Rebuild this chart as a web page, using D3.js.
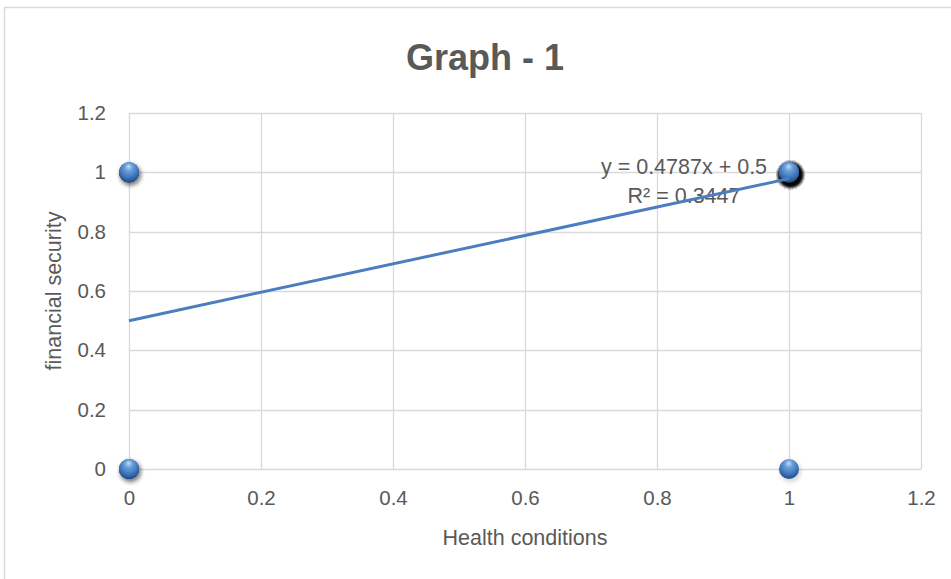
<!DOCTYPE html>
<html>
<head>
<meta charset="utf-8">
<script src="https://cdn.jsdelivr.net/npm/d3@7"></script>
<style>
  html, body { margin: 0; padding: 0; background: #ffffff; }
  svg { display: block; font-family: "Liberation Sans", Arial, sans-serif; }
</style>
</head>
<body>
<svg id="chart" width="951" height="579"></svg>
<script>
// Observations: health conditions (x) vs financial security (y), 55 respondents
const healthValues = [
  0, 0, 0, 0,
  0, 0, 0, 0,
  1, 1, 1, 1, 1, 1, 1, 1, 1, 1, 1, 1, 1, 1, 1, 1, 1, 1, 1, 1, 1, 1, 1,
  1, 1, 1, 1, 1, 1, 1, 1, 1, 1, 1, 1, 1, 1, 1, 1, 1, 1, 1, 1, 1, 1, 1,
  1
];
const securityValues = [
  0, 0, 0, 0,
  1, 1, 1, 1,
  1, 1, 1, 1, 1, 1, 1, 1, 1, 1, 1, 1, 1, 1, 1, 1, 1, 1, 1, 1, 1, 1, 1,
  1, 1, 1, 1, 1, 1, 1, 1, 1, 1, 1, 1, 1, 1, 1, 1, 1, 1, 1, 1, 1, 1, 1,
  0
];

// Linear trendline as reported
const trendSlope = 0.4787;
const trendIntercept = 0.5;
const trendR2 = 0.3447;

const xTicks = [0, 0.2, 0.4, 0.6, 0.8, 1, 1.2];
const yTicks = [0, 0.2, 0.4, 0.6, 0.8, 1, 1.2];

const chartTitle = "Graph - 1";
const xTitle = "Health conditions";
const yTitle = "financial security";

const svg = d3.select("#chart");
const plot = { left: 129, right: 921, top: 113, bottom: 469 };

const x = d3.scaleLinear().domain([0, 1.2]).range([plot.left, plot.right]);
const y = d3.scaleLinear().domain([0, 1.2]).range([plot.bottom, plot.top]);

const textColor = "#595959";
const gridColor = "#d9d9d9";

// Chart frame
svg.append("rect")
  .attr("x", 4.5).attr("y", 7.5)
  .attr("width", 1000).attr("height", 1000)
  .attr("fill", "#ffffff")
  .attr("stroke", gridColor).attr("stroke-width", 1.5);

// Title
svg.append("text")
  .attr("x", 485).attr("y", 70)
  .attr("text-anchor", "middle")
  .attr("font-size", 36).attr("font-weight", "bold")
  .attr("fill", textColor)
  .text(chartTitle);

// Gridlines
const grid = svg.append("g");
grid.selectAll("line.h").data(yTicks).join("line")
  .attr("class", "h")
  .attr("x1", plot.left).attr("x2", plot.right)
  .attr("y1", d => Math.round(y(d)) + 0.5).attr("y2", d => Math.round(y(d)) + 0.5)
  .attr("stroke", gridColor).attr("stroke-width", 1.3);
grid.selectAll("line.v").data(xTicks).join("line")
  .attr("class", "v")
  .attr("y1", plot.top).attr("y2", plot.bottom)
  .attr("x1", d => Math.round(x(d)) + 0.5).attr("x2", d => Math.round(x(d)) + 0.5)
  .attr("stroke", gridColor).attr("stroke-width", 1.3);

// Axes (labels only)
const fmt = d => d3.format("~g")(d);
const xAxis = svg.append("g")
  .attr("transform", `translate(0,${plot.bottom})`)
  .call(d3.axisBottom(x).tickValues(xTicks).tickFormat(fmt).tickSize(0).tickPadding(21));
const yAxis = svg.append("g")
  .attr("transform", `translate(${plot.left},0)`)
  .call(d3.axisLeft(y).tickValues(yTicks).tickFormat(fmt).tickSize(0).tickPadding(23));
[xAxis, yAxis].forEach(a => {
  a.select(".domain").remove();
  a.selectAll("text")
    .attr("font-size", 20.5)
    .attr("font-family", "Liberation Sans, Arial, sans-serif")
    .attr("fill", textColor);
});

// Axis titles
svg.append("text")
  .attr("x", 525).attr("y", 545)
  .attr("text-anchor", "middle")
  .attr("font-size", 21.5).attr("fill", textColor)
  .text(xTitle);
svg.append("text")
  .attr("transform", `translate(61,${(plot.top + plot.bottom) / 2}) rotate(-90)`)
  .attr("text-anchor", "middle")
  .attr("font-size", 21.5).attr("fill", textColor)
  .text(yTitle);

// Marker styling: soft drop shadow and shaded sphere
const defs = svg.append("defs");
defs.append("filter").attr("id", "shadowBlur")
  .attr("x", "-100%").attr("y", "-100%").attr("width", "300%").attr("height", "300%")
  .append("feGaussianBlur").attr("stdDeviation", 2.2);
const grad = defs.append("radialGradient").attr("id", "sphere")
  .attr("cx", "50%").attr("cy", "35%").attr("r", "65%")
  .attr("fx", "48%").attr("fy", "20%");
grad.append("stop").attr("offset", "0%").attr("stop-color", "#c4ddf8");
grad.append("stop").attr("offset", "30%").attr("stop-color", "#6a9fdc");
grad.append("stop").attr("offset", "72%").attr("stop-color", "#3d72b8");
grad.append("stop").attr("offset", "100%").attr("stop-color", "#1f4a88");

const points = healthValues.map((h, i) => ({ x: h, y: securityValues[i] }));
const marks = svg.append("g");
points.forEach(p => {
  marks.append("circle")
    .attr("cx", x(p.x) + 1.5).attr("cy", y(p.y) + 2.5)
    .attr("r", 10.5)
    .attr("fill", "#000000").attr("fill-opacity", 0.16)
    .attr("filter", "url(#shadowBlur)");
  marks.append("circle")
    .attr("cx", x(p.x)).attr("cy", y(p.y))
    .attr("r", 10)
    .attr("fill", "url(#sphere)");
});

// Trendline label
const label = svg.append("text")
  .attr("text-anchor", "middle")
  .attr("font-size", 21.5).attr("fill", textColor);
label.append("tspan").attr("x", 684).attr("y", 174)
  .text(`y = ${trendSlope}x + ${trendIntercept}`);
label.append("tspan").attr("x", 684).attr("y", 203)
  .text(`R² = ${trendR2}`);

// Trendline over the observed x range
const xExtent = d3.extent(healthValues);
svg.append("line")
  .attr("x1", x(xExtent[0])).attr("y1", y(trendSlope * xExtent[0] + trendIntercept))
  .attr("x2", x(xExtent[1])).attr("y2", y(trendSlope * xExtent[1] + trendIntercept))
  .attr("stroke", "#4a7ebf").attr("stroke-width", 3);
</script>
</body>
</html>
